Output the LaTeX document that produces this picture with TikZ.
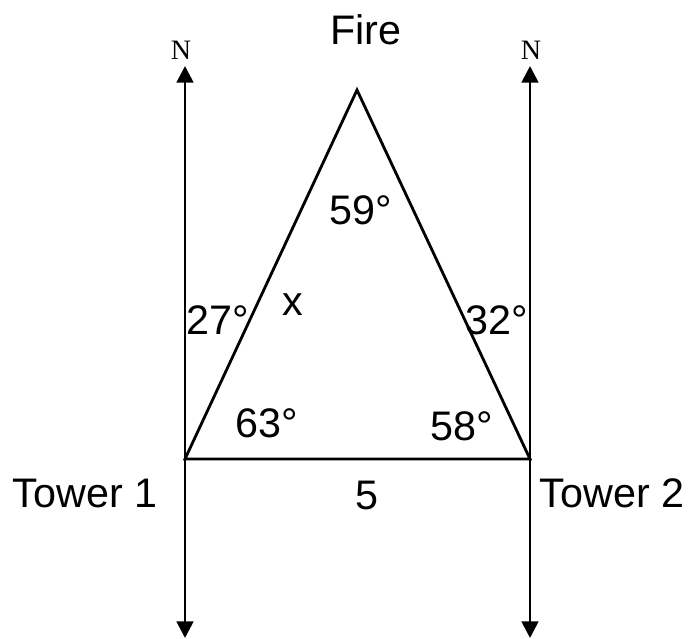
\documentclass[tikz,border=0pt]{standalone}
\usepackage{fontspec}
\setmainfont{Liberation Sans}
\newfontfamily\serifN{Liberation Serif}
\usetikzlibrary{positioning, arrows.meta}

\begin{document}
\begin{tikzpicture}[x=0.02cm, y=-0.02cm, line width=1.6pt,
  lbl/.style={font=\fontsize{23.5}{27}\selectfont, inner sep=0pt},
  northlbl/.style={font=\serifN\fontsize{16}{19}\selectfont, inner sep=0pt},
  bearing/.style={-{Triangle[length=9.5pt, width=9.5pt]}}]

\useasboundingbox (0,0) rectangle (698,639);

% Points
\coordinate (t1) at (185,459);
\coordinate (t2) at (530,459);
\coordinate (fire) at (357,90);
\coordinate (n1) at (185,66);
\coordinate (s1) at (185,638);
\coordinate (n2) at (530,66);
\coordinate (s2) at (530,638);

% North-south lines
\draw[bearing] (t1) -- (n1);
\draw[bearing] (t1) -- (s1);
\draw[bearing] (t2) -- (n2);
\draw[bearing] (t2) -- (s2);

% Triangle
\draw[line join=miter] (t1) -- (fire) -- (t2) -- cycle;

% Labels
\node[northlbl] (nl) at (181,50) {N};
\node[northlbl] (nr) at (531,50) {N};
\node[lbl] (firel) at (366,30) {Fire};
\node[lbl] (tw1) at (85,493) {Tower 1};
\node[lbl] (tw2) at (612,493) {Tower 2};
\node[lbl] (side) at (367,495) {5};
\node[lbl] (xl) at (293,305) {x};

% Angles
\node[lbl] (a59) at (361,210) {59°};
\node[lbl] (a27) at (218,320) {27°};
\node[lbl] (a32) at (497,320) {32°};
\node[lbl] (a63) at (267,423) {63°};
\node[lbl] (a58) at (462,426) {58°};

\end{tikzpicture}
\end{document}
